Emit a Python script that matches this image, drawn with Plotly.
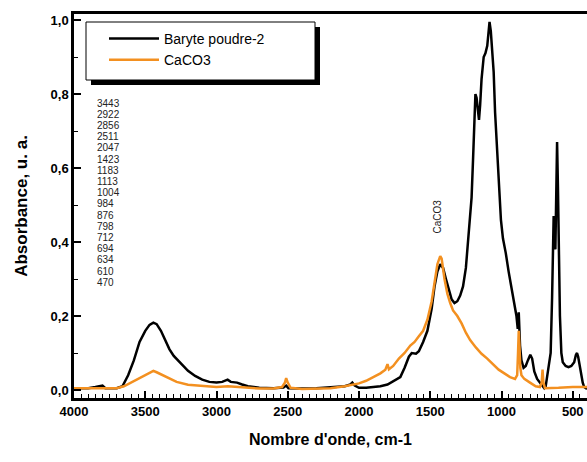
import plotly.graph_objects as go

# ---------------- data ----------------
baryte_wn = [4000, 3900, 3850, 3800, 3780, 3700, 3660, 3620, 3580, 3540, 3500, 3470, 3443, 3420, 3390,
             3360, 3330, 3300, 3270, 3240, 3200, 3150, 3100, 3050, 3000, 2960, 2922, 2900, 2856, 2820,
             2780, 2700, 2600, 2530, 2511, 2495, 2400, 2300, 2200, 2100, 2060, 2047, 2030, 2000, 1950,
             1900, 1850, 1800, 1750, 1710, 1680, 1650, 1630, 1600, 1580, 1550, 1520, 1490, 1470, 1450,
             1430, 1410, 1390, 1370, 1350, 1330, 1310, 1290, 1270, 1250, 1230, 1210, 1200, 1190, 1183,
             1175, 1165, 1158, 1150, 1140, 1125, 1113, 1100, 1090, 1084, 1075, 1065, 1055, 1045, 1030,
             1015, 1004, 990, 984, 970, 950, 930, 910, 895, 886, 879, 870, 860, 845, 830,
             815, 798, 785, 770, 750, 730, 712, 700, 690, 680, 665, 655, 645, 638, 634,
             628, 622, 617, 610, 604, 597, 590, 580, 570, 550, 530, 510, 490, 478, 470,
             462, 450, 440, 430, 420, 400]
baryte_abs = [0.005, 0.005, 0.008, 0.012, 0.005, 0.005, 0.010, 0.040, 0.080, 0.130, 0.160, 0.176, 0.182, 0.178, 0.160,
              0.135, 0.110, 0.092, 0.080, 0.068, 0.052, 0.038, 0.028, 0.022, 0.020, 0.022, 0.028, 0.022, 0.020, 0.015,
              0.010, 0.006, 0.005, 0.007, 0.012, 0.005, 0.004, 0.005, 0.007, 0.010, 0.015, 0.020, 0.012, 0.006, 0.006,
              0.008, 0.010, 0.015, 0.025, 0.035, 0.060, 0.090, 0.100, 0.098, 0.105, 0.130, 0.160, 0.220, 0.280, 0.320,
              0.340, 0.330, 0.300, 0.270, 0.245, 0.235, 0.240, 0.255, 0.280, 0.330, 0.420, 0.520, 0.620, 0.740, 0.800,
              0.790, 0.740, 0.730, 0.770, 0.840, 0.900, 0.910, 0.930, 0.980, 0.995, 0.970, 0.920, 0.860, 0.750, 0.630,
              0.520, 0.460, 0.410, 0.400, 0.370, 0.320, 0.280, 0.240, 0.200, 0.165, 0.210, 0.120, 0.080, 0.060, 0.065,
              0.080, 0.095, 0.085, 0.050, 0.030, 0.020, 0.010, 0.005, 0.010, 0.040, 0.070, 0.100, 0.250, 0.400, 0.470,
              0.420, 0.380, 0.500, 0.670, 0.550, 0.350, 0.200, 0.100, 0.075, 0.065, 0.062, 0.065, 0.075, 0.095, 0.100,
              0.090, 0.060, 0.040, 0.020, 0.008, 0.003]

caco3_wn = [4000, 3800, 3700, 3650, 3600, 3550, 3500, 3460, 3443, 3420, 3380, 3330, 3280, 3200, 3100,
            3000, 2920, 2850, 2700, 2600, 2540, 2520, 2511, 2500, 2480, 2400, 2300, 2200, 2100, 2000,
            1950, 1900, 1850, 1815, 1800, 1790, 1760, 1720, 1680, 1640, 1610, 1580, 1550, 1520, 1490,
            1470, 1450, 1430, 1420, 1400, 1380, 1360, 1340, 1310, 1280, 1250, 1220, 1180, 1140, 1100,
            1060, 1020, 980, 940, 905, 890, 884, 879, 874, 868, 860, 840, 800, 760, 730,
            718, 712, 706, 695, 650, 600, 500, 400]
caco3_abs = [0.005, 0.004, 0.005, 0.010, 0.020, 0.032, 0.042, 0.048, 0.052, 0.048, 0.040, 0.030, 0.022, 0.014, 0.010,
             0.008, 0.010, 0.008, 0.004, 0.004, 0.008, 0.020, 0.032, 0.020, 0.006, 0.003, 0.003, 0.005, 0.010, 0.018,
             0.025, 0.035, 0.045, 0.055, 0.070, 0.056, 0.065, 0.085, 0.100, 0.120, 0.130, 0.145, 0.160, 0.190, 0.240,
             0.290, 0.340, 0.362, 0.355, 0.300, 0.260, 0.235, 0.215, 0.200, 0.180, 0.155, 0.135, 0.115, 0.098, 0.085,
             0.070, 0.055, 0.045, 0.035, 0.030, 0.040, 0.100, 0.160, 0.120, 0.060, 0.040, 0.030, 0.020, 0.010, 0.008,
             0.020, 0.055, 0.020, 0.005, 0.005, 0.006, 0.008, 0.008]

series_names = ["Baryte poudre-2", "CaCO3"]
peak_labels = ["3443", "2922", "2856", "2511", "2047", "1423", "1183", "1113", "1004",
               "984", "876", "798", "712", "694", "634", "610", "470"]
band_label = "CaCO3"
band_label_pos = (1450, 0.47)

x_ticks = [4000, 3500, 3000, 2500, 2000, 1500, 1000, 500]
y_ticks = [0.0, 0.2, 0.4, 0.6, 0.8, 1.0]
y_ticktext = ["0,0", "0,2", "0,4", "0,6", "0,8", "1,0"]

# ---------------- figure ----------------
W, H = 587, 462
L, R, T, B = 74, 0, 14, 64
pw, ph = W - L - R, H - T - B

def px(x):
    return (x - L) / pw

def py(y):
    return (H - B - y) / ph

FONT = "Liberation Sans, Arial, sans-serif"
ORANGE = "#F39020"

fig = go.Figure()
fig.add_trace(go.Scatter(x=baryte_wn, y=baryte_abs, mode="lines", name=series_names[0],
                         line=dict(color="black", width=2.5)))
fig.add_trace(go.Scatter(x=caco3_wn, y=caco3_abs, mode="lines", name=series_names[1],
                         line=dict(color=ORANGE, width=2.5)))

# legend box with shadow
fig.add_shape(type="rect", xref="paper", yref="paper", x0=px(91), x1=px(320), y0=py(85), y1=py(27),
              fillcolor="black", line=dict(width=0), layer="above")
fig.add_shape(type="rect", xref="paper", yref="paper", x0=px(86), x1=px(315), y0=py(80), y1=py(22),
              fillcolor="white", line=dict(color="black", width=1), layer="above")

annotations = []
for i, t in enumerate(peak_labels):
    annotations.append(dict(x=px(95), y=py(103 + i * 11.2), xref="paper", yref="paper", text=t,
                            showarrow=False, xanchor="left", yanchor="middle",
                            font=dict(family=FONT, size=10, color="#222")))
annotations.append(dict(x=band_label_pos[0], y=band_label_pos[1], xref="x", yref="y", text=band_label,
                        showarrow=False, textangle=-90, font=dict(family=FONT, size=10, color="#222")))
fig.update_layout(annotations=annotations)

fig.update_layout(
    width=W, height=H,
    margin=dict(l=L, r=R, t=T, b=B, pad=0),
    paper_bgcolor="white", plot_bgcolor="white",
    showlegend=True,
    legend=dict(x=px(104), y=py(23), xanchor="left", yanchor="top", bgcolor="rgba(0,0,0,0)",
                borderwidth=0, font=dict(family=FONT, size=14, color="black"),
                tracegroupgap=0, itemwidth=50),
    xaxis=dict(range=[4000, 400], tickvals=x_ticks, ticks="inside", ticklen=7, tickwidth=2,
               tickcolor="black", showline=True, linewidth=2.5, linecolor="black", mirror=True,
               showgrid=False, zeroline=False,
               tickfont=dict(family=FONT, size=13, color="black", weight="bold"),
               minor=dict(dtick=50, ticks="inside", ticklen=4, tickwidth=1.2, tickcolor="black", showgrid=False),
               title=dict(text="Nombre d'onde, cm-1", standoff=16,
                          font=dict(family=FONT, size=16, color="black", weight="bold"))),
    yaxis=dict(range=[-0.0216, 1.0162], tickvals=y_ticks, ticktext=y_ticktext, ticks="inside", ticklen=7,
               tickwidth=2, tickcolor="black", showline=True, linewidth=2.5, linecolor="black",
               showgrid=False, zeroline=False,
               tickfont=dict(family=FONT, size=13, color="black", weight="bold"),
               minor=dict(dtick=0.1, ticks="inside", ticklen=4, tickwidth=1.2, tickcolor="black", showgrid=False),
               title=dict(text="Absorbance, u. a.", standoff=19,
                          font=dict(family=FONT, size=17, color="black", weight="bold"))),
)

fig.write_html("out.html")
